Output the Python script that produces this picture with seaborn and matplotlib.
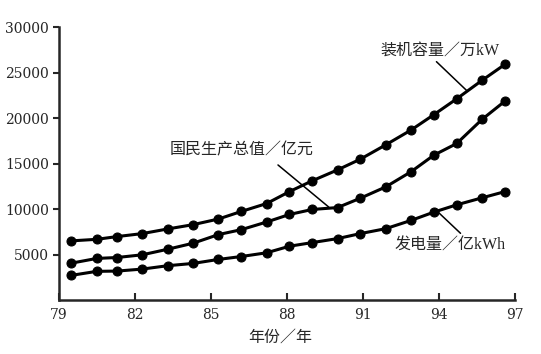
import numpy as np
import pandas as pd
import matplotlib
matplotlib.use("Agg")
import matplotlib.pyplot as plt
import seaborn as sns

# data
years = [79.5, 80.5, 81.3, 82.3, 83.3, 84.3, 85.3, 86.2, 87.2, 88.1,
         89.0, 90.0, 90.9, 91.9, 92.9, 93.8, 94.7, 95.7, 96.6]
capacity = [6500, 6670, 6970, 7300, 7810, 8280, 8900, 9730, 10600, 11910,
            13100, 14300, 15480, 17050, 18680, 20370, 22110, 24140, 25890]
gnp = [4050, 4570, 4670, 4970, 5580, 6240, 7190, 7730, 8570, 9400,
       9950, 10160, 11190, 12430, 14100, 15920, 17200, 19850, 21850]
generation = [2710, 3150, 3180, 3400, 3770, 4020, 4460, 4780, 5190, 5910,
              6310, 6750, 7300, 7840, 8750, 9660, 10460, 11230, 11910]
xticks = [79, 82, 85, 88, 91, 94, 97]
yticks = [5000, 10000, 15000, 20000, 25000, 30000]

df = pd.DataFrame({"year": years, "装机容量": capacity,
                   "国民生产总值": gnp, "发电量": generation})
dfm = df.melt(id_vars="year", var_name="series", value_name="value")

sns.set_style("ticks")
plt.rcParams["font.family"] = ["DejaVu Serif", "Noto Sans CJK SC"]
cjk = ["Liberation Serif", "Noto Sans CJK SC"]

fig = plt.figure(figsize=(5.41, 3.54), dpi=100)
ax = fig.add_axes([0.1085, 0.1525, 0.952 - 0.1085, 0.9237 - 0.1525])

sns.lineplot(data=dfm, x="year", y="value", units="series", estimator=None,
             color="black", lw=2.2, marker="o", markersize=6.5,
             markeredgecolor="black", ax=ax, legend=False)

ax.set_xlim(79, 97)
ax.set_ylim(0, 30000)
ax.set_xticks(xticks)
ax.set_yticks(yticks)
ax.tick_params(axis="x", direction="in", length=5, width=1.5, pad=6, labelsize=10)
ax.tick_params(axis="y", direction="out", length=4, width=1.5, pad=3, labelsize=10)
for lab in ax.get_xticklabels() + ax.get_yticklabels():
    lab.set_fontweight("medium")
sns.despine(ax=ax)
for s in ["left", "bottom"]:
    ax.spines[s].set_linewidth(1.8)
ax.set_ylabel("")
ax.set_xlabel("年份／年", family=cjk, fontsize=11.5)
ax.xaxis.set_label_coords(0.485, -0.11)

# labels with leader lines
ax.text(94.05, 27450, "装机容量／万kW", family=cjk, fontsize=11.5, ha="center", va="center")
ax.plot([93.9, 95.1], [26190, 23000], color="black", lw=1.1)
ax.text(86.2, 16400, "国民生产总值／亿元", family=cjk, fontsize=11.5, ha="center", va="center")
ax.plot([87.65, 89.65], [14840, 10220], color="black", lw=1.1)
ax.text(94.45, 5930, "发电量／亿kWh", family=cjk, fontsize=11.5, ha="center", va="center")
ax.plot([93.95, 94.85], [9700, 7330], color="black", lw=1.1)

fig.savefig("out.png", dpi=100)
